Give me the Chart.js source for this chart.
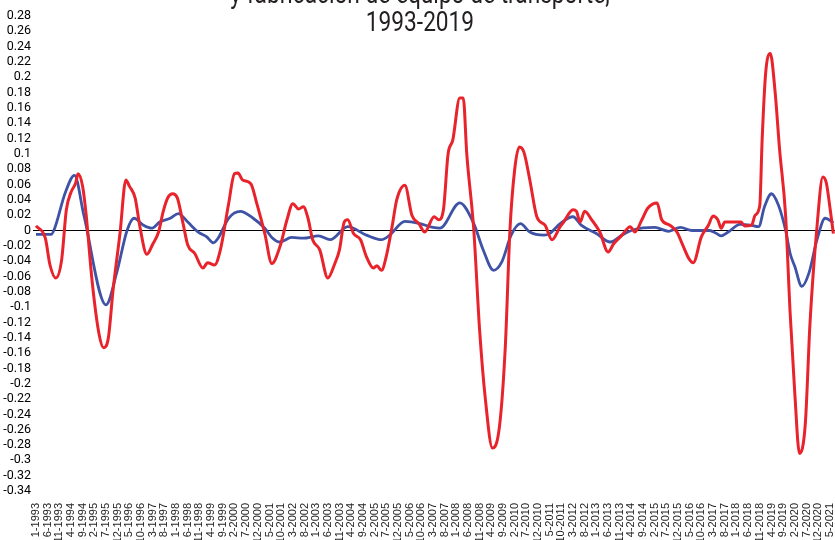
<!DOCTYPE html>
<html>
<head>
<meta charset="utf-8">
<script src="https://cdn.jsdelivr.net/npm/chart.js@4.4.1/dist/chart.umd.min.js"></script>
<style>
  html, body { margin: 0; padding: 0; overflow: hidden; background: #fff; }
  #wrap { position: relative; width: 870px; height: 540px; }
  #title {
    position: absolute; left: 0; top: -19.75px; width: 840px;
    text-align: center; color: #231f20;
    font: 27px/28px Roboto, 'DejaVu Sans Condensed', sans-serif;
    transform: scaleX(0.84); transform-origin: 420px 0;
    white-space: nowrap;
    pointer-events: none;
  }
</style>
</head>
<body>
<div id="wrap">
  <canvas id="myChart" width="870" height="540"></canvas>
  <div id="title">y fabricación de equipo de transporte,<br>1993-2019</div>
</div>
<script>
// months counted from 1-1993 (0 = enero 1993)
const startYear = 1993;
const lastTickMonth = 340; // 5-2021

const redMonths = [0, 4, 6, 8.5, 11, 13, 15, 17, 18, 20, 21.5, 24, 27, 29, 31, 33, 36, 38.5, 40, 42.5,
  44.5, 47.5, 50, 52.5, 54.5, 56.5, 58.5, 60.5, 63, 65, 68, 71.5, 73.5, 76.5, 79, 82.5, 85, 86.5, 88.5, 92,
  94.5, 98, 101, 104.5, 107.5, 110, 112.5, 114.5, 116.5, 118.5, 121.5, 125, 128, 130, 132, 133.5, 136, 139, 141.5, 144.5,
  146, 148, 150, 152.5, 154.5, 158, 161, 164, 166.5, 170.5, 172.5, 174.5, 176.5, 178.5, 181.5, 183, 184.5, 187.5, 190, 192.5,
  195.5, 198.5, 201, 203, 205, 207, 209, 211.5, 214.5, 218, 221, 224.5, 226, 230, 231.5, 233, 235, 238, 241.5, 245,
  247.5, 251, 254.5, 256.5, 259.5, 262, 266, 268, 271.5, 274.5, 277, 279.5, 281.5, 285, 288, 290, 292, 293.5, 295, 302,
  303.5, 306.5, 308, 310, 311, 312.5, 314.5, 316.5, 318.5, 321, 323, 325, 327, 329.5, 331.5, 334.5, 337, 338.5, 340, 341.5];
const redValues = [0.006, -0.01, -0.045, -0.062, -0.038, 0.027, 0.05, 0.062, 0.074, 0.057, 0.02, -0.065, -0.135, -0.153, -0.14, -0.078, -0.003, 0.066, 0.058, 0.042,
  0.005, -0.031, -0.018, -0.002, 0.025, 0.043, 0.048, 0.043, 0.009, -0.019, -0.03, -0.049, -0.042, -0.045, -0.025, 0.035, 0.074, 0.075, 0.066, 0.061,
  0.036, -0.004, -0.043, -0.021, 0.014, 0.035, 0.028, 0.031, 0.016, -0.012, -0.025, -0.062, -0.043, -0.025, 0.011, 0.014, -0.004, -0.012, -0.034, -0.049,
  -0.046, -0.052, -0.034, 0.005, 0.04, 0.059, 0.02, 0.009, -0.002, 0.018, 0.014, 0.027, 0.1, 0.118, 0.173, 0.173, 0.1, 0.001, -0.13, -0.221,
  -0.284, -0.256, -0.152, 0.001, 0.079, 0.109, 0.102, 0.066, 0.018, 0.007, -0.012, 0.005, 0.011, 0.027, 0.025, 0.011, 0.025, 0.014, -0.002, -0.028,
  -0.017, -0.006, 0.005, -0.002, 0.014, 0.029, 0.036, 0.014, 0.007, -0.002, -0.019, -0.036, -0.042, -0.008, 0.007, 0.019, 0.014, 0.003, 0.011, 0.011,
  0.006, 0.007, 0.02, 0.033, 0.118, 0.205, 0.231, 0.183, 0.105, 0.022, -0.108, -0.213, -0.291, -0.252, -0.121, 0.005, 0.07, 0.062, 0.031, -0.004];

const blueMonths = [0, 6.5, 8, 12.5, 16.5, 20.5, 30, 34.5, 39, 42, 46, 49.5, 53, 57.5, 61, 65, 69.5, 73, 76, 78,
  82.5, 87.5, 93, 98, 101, 104.5, 109.5, 114.5, 121, 126, 133.5, 141.5, 148, 151.5, 158, 164.5, 170, 173, 181.5, 187.5,
  191.5, 196, 199.5, 203.5, 207.5, 211.5, 217.5, 220, 224.5, 230, 233.5, 240, 246, 251, 256, 265, 271, 276, 281, 288.5,
  291.5, 293.5, 296.5, 301.5, 306, 309.5, 312, 315, 318, 321, 323, 325, 328, 331, 334.5, 338, 341.5];
const blueValues = [-0.005, -0.005, 0.003, 0.049, 0.072, 0.02, -0.097, -0.056, 0, 0.016, 0.007, 0.003, 0.011, 0.016, 0.022, 0.011, -0.002, -0.008, -0.016, -0.01,
  0.016, 0.025, 0.016, 0.003, -0.009, -0.015, -0.009, -0.01, -0.007, -0.012, 0.005, -0.006, -0.012, -0.006, 0.012, 0.009, 0.004, 0.003, 0.036, 0.009,
  -0.025, -0.052, -0.041, -0.006, 0.009, -0.002, -0.006, -0.004, 0.009, 0.018, 0.007, -0.004, -0.015, -0.006, 0.001, 0.004, -0.001, 0.004, 0, 0,
  -0.004, -0.007, -0.002, 0.008, 0.007, 0.005, 0.031, 0.048, 0.033, 0.001, -0.03, -0.047, -0.073, -0.056, -0.012, 0.016, 0.01];

const toPoints = (xs, ys) => xs.map((m, i) => ({ x: m, y: ys[i] }));
const monthLabel = (m) => ((m % 12) + 1) + '-' + (startYear + Math.floor(m / 12));

const ctx = document.getElementById('myChart');

new Chart(ctx, {
  type: 'line',
  data: {
    datasets: [{
      label: 'Fabricación de equipo de transporte',
      data: toPoints(redMonths, redValues),
      borderColor: '#e8232b',
      borderWidth: 3,
      pointRadius: 0,
      tension: 0.4,
      cubicInterpolationMode: 'monotone'
    }, {
      label: 'Industria manufacturera',
      data: toPoints(blueMonths, blueValues),
      borderColor: '#3f53a6',
      borderWidth: 2.8,
      pointRadius: 0,
      tension: 0.4,
      cubicInterpolationMode: 'monotone'
    }]
  },
  options: {
    responsive: false,
    animation: false,
    layout: { padding: { top: 16, right: 0, bottom: 0, left: 0 } },
    plugins: {
      legend: { display: false },
      tooltip: { enabled: false }
    },
    scales: {
      x: {
        type: 'linear',
        min: -1.28,
        max: 357.2,
        afterBuildTicks: (scale) => {
          scale.ticks = scale.ticks.filter(t => t.value >= 0 && t.value <= lastTickMonth);
        },
        afterFit: (scale) => { scale.height = 49; },
        grid: { display: false, drawTicks: false },
        border: { display: false },
        ticks: {
          stepSize: 5,
          includeBounds: false,
          autoSkip: false,
          minRotation: 90,
          maxRotation: 90,
          padding: 12,
          color: '#1e1e1e',
          font: { family: "'Liberation Sans', Arial, sans-serif", size: 11 },
          callback: (v) => monthLabel(Math.round(v))
        }
      },
      y: {
        min: -0.34,
        max: 0.28,
        afterFit: (scale) => { scale.width = 33; },
        border: { display: false },
        grid: {
          drawTicks: false,
          lineWidth: 1,
          color: (c) => (Math.abs(c.tick.value) < 1e-9 ? '#000' : 'rgba(0,0,0,0)')
        },
        ticks: {
          stepSize: 0.02,
          autoSkip: false,
          padding: 2,
          color: '#000',
          font: { family: "Roboto, sans-serif", size: 12.5 },
          callback: (v) => String(Math.round(v * 100) / 100)
        }
      }
    }
  }
});
</script>
</body>
</html>
